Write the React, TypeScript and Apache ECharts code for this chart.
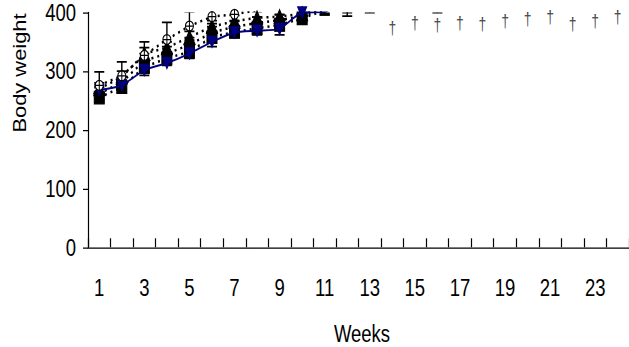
import React, { useEffect, useRef } from "react";
import * as echarts from "echarts";

const N: number | null = null;

const weeks = [
  "1", "2", "3", "4", "5", "6", "7", "8", "9", "10", "11", "12",
  "13", "14", "15", "16", "17", "18", "19", "20", "21", "22", "23", "24",
];

// mean body weight per week (weeks 1..24) and standard deviations
const blueMean = [268, 276, 302, 314, 330, 350, 366, 369, 372, 400, 401, 430, N, N, N, N, N, N, N, N, N, N, N, N];
const blueSd = [6, 6, 9, 4, 8, 8, 7, 7, 10, N, N, N, N, N, N, N, N, N, N, N, N, N, N, N];

const squareMean = [255, 273, 307, 322, 333, 358, 367, 373, 379, 390, 404, 412, 415, N, N, N, N, N, N, N, N, N, N, N];
const squareSd = [8, 10, 10, 10, 10, 10, 10, 10, 10, 10, 8, 18, 15, N, N, N, N, N, N, N, N, N, N, N];

const diamondMean = [262, 281, 318, 330, 345, 366, 376, 382, 387, 394, 406, 412, 414, N, N, 416, N, N, N, N, N, N, N, N];
const diamondSd = [10, 10, 12, 12, 12, 10, 10, 10, 10, 10, 10, 12, 12, N, N, 16, N, N, N, N, N, N, N, N];

const triMean = [270, 290, 330, 340, 358, 376, 385, 391, 393, 398, 408, 412, 415, N, N, N, N, N, N, N, N, N, N, N];
const triSd = [10, 10, 10, 10, 10, 10, 10, 10, 10, 10, 10, 10, 10, N, N, N, N, N, N, N, N, N, N, N];

const circleMean = [276, 292, 327, 354, 377, 393, 397, 404, 408, 410, 412, 414, 416, N, N, N, N, N, N, N, N, N, N, N];
const circleSd = [23, 24, 23, 29, 24, 12, 12, 12, 12, 12, 12, 12, 12, N, N, N, N, N, N, N, N, N, N, N];

// death markers (†) after week 13
const daggerWeeks = ["14", "15", "16", "17", "18", "19", "20", "21", "22", "23", "24"];
const daggerY = [374, 382, 378, 383, 381, 386, 389, 392, 380, 386, 392];

const yMin = 0;
const yMax = 400;
const yInterval = 100;

// the reference is vertically stretched; reproduce by stretching the chart
const STRETCH = 1.25;
const W = 629;
const H = 347;

const FONT = "'Liberation Sans', Arial, sans-serif";

function errorData(mean: (number | null)[], sd: (number | null)[]) {
  const out: number[][] = [];
  mean.forEach((m, i) => {
    const s = sd[i];
    if (m != null && s != null) out.push([i, m - s, m + s]);
  });
  return out;
}

function errorSeries(mean: (number | null)[], sd: (number | null)[], color: string, z: number) {
  return {
    type: "custom",
    clip: true,
    z,
    silent: true,
    encode: { x: 0, y: [1, 2] },
    data: errorData(mean, sd),
    renderItem: (params: any, api: any) => {
      const x = api.value(0);
      const lo = api.coord([x, api.value(1)]);
      const hi = api.coord([x, api.value(2)]);
      const w = 5;
      const st = { stroke: color, lineWidth: 1.4 };
      return {
        type: "group",
        children: [
          { type: "line", shape: { x1: lo[0], y1: lo[1], x2: hi[0], y2: hi[1] }, style: st },
          { type: "line", shape: { x1: lo[0] - w, y1: lo[1], x2: lo[0] + w, y2: lo[1] }, style: st },
          { type: "line", shape: { x1: hi[0] - w, y1: hi[1], x2: hi[0] + w, y2: hi[1] }, style: st },
        ],
      };
    },
  };
}

function lineSeries(
  name: string,
  data: (number | null)[],
  symbol: string,
  size: number,
  fill: string,
  lineColor: string,
  lineType: any,
  lineWidth: number,
  z: number,
  smooth: number = 0
) {
  return {
    type: "line",
    name,
    data,
    symbol,
    symbolSize: size,
    showAllSymbol: true,
    clip: true,
    smooth,
    z,
    itemStyle: { color: fill, borderColor: fill === "#fff" ? "#000" : fill, borderWidth: 1 },
    lineStyle: { color: lineColor, type: lineType, width: lineWidth },
  };
}

const circleCross = "path://M10,0 A10,10 0 1,1 10,20 A10,10 0 1,1 10,0 Z M0,10 L20,10 M10,0 L10,20";

export default function App() {
  const ref = useRef<HTMLDivElement>(null);

  useEffect(() => {
    if (!ref.current) return;
    const chart = echarts.init(ref.current, undefined, { renderer: "svg" });
    const s = STRETCH;
    const option: any = {
      animation: false,
      backgroundColor: "#fff",
      grid: { left: 88, top: 12.5 / s, width: 543, height: 234.8 / s, containLabel: false },
      xAxis: {
        type: "category",
        data: weeks,
        boundaryGap: true,
        axisLine: { show: true, lineStyle: { color: "#000", width: 1 } },
        axisTick: { show: true, inside: true, length: 9 / s, interval: 0, lineStyle: { color: "#000", width: 1.2 } },
        axisLabel: { interval: 1, margin: 22.5, fontSize: 18.5, color: "#000", fontFamily: FONT },
        splitLine: { show: false },
      },
      yAxis: {
        type: "value",
        min: yMin,
        max: yMax,
        interval: yInterval,
        axisLine: { show: true, lineStyle: { color: "#000", width: 1.2 } },
        axisTick: { show: true, inside: false, length: 5, lineStyle: { color: "#000", width: 1 } },
        axisLabel: { margin: 12, fontSize: 18.5, color: "#000", fontFamily: FONT },
        splitLine: { show: false },
      },
      graphic: [
        {
          type: "text",
          x: 19.5,
          y: 73 / s,
          rotation: Math.PI / 2,
          style: {
            text: "Body weight",
            font: "17.5px 'Liberation Sans', Arial, sans-serif",
            fill: "#000",
            textAlign: "center",
            textVerticalAlign: "middle",
          },
        },
        {
          type: "text",
          x: 362,
          y: 333.5 / s,
          style: {
            text: "Weeks",
            font: "18.5px 'Liberation Sans', Arial, sans-serif",
            fill: "#000",
            textAlign: "center",
            textVerticalAlign: "middle",
          },
        },
      ],
      series: [
        errorSeries(squareMean, squareSd, "#000", 3),
        errorSeries(diamondMean, diamondSd, "#000", 3),
        errorSeries(triMean, triSd, "#000", 3),
        errorSeries(circleMean, circleSd, "#000", 3),
        errorSeries(blueMean, blueSd, "#000", 3),
        lineSeries("Squares", squareMean, "rect", 10, "#000", "#000", [2, 4], 2, 4),
        lineSeries("Diamonds", diamondMean, "diamond", 11, "#000", "#000", [2, 4], 2, 4),
        lineSeries("Triangles", triMean, "triangle", 11, "#000", "#000", [2, 4], 2, 4),
        lineSeries("Blue", blueMean, "path://M0,0 L20,0 L10,17 Z", 9, "#000080", "#000080", "solid", 1.5, 5, 0.2),
        lineSeries("Circles", circleMean, circleCross, 8, "#fff", "#000", [2, 4], 2, 6),
        {
          type: "scatter",
          name: "Deaths",
          data: daggerWeeks.map((w, i) => [w, daggerY[i]]),
          symbol: "circle",
          symbolSize: 1,
          itemStyle: { color: "transparent" },
          z: 7,
          label: {
            show: true,
            position: "inside",
            formatter: "†",
            fontSize: 14,
            color: "#111",
            fontFamily: FONT,
          },
        },
      ],
    };
    chart.setOption(option);
    return () => chart.dispose();
  }, []);

  return (
    <div style={{ position: "absolute", left: 0, top: 0, width: W, height: H, overflow: "hidden", background: "#fff" }}>
      <div
        ref={ref}
        style={{
          width: W,
          height: H / STRETCH,
          transform: `scaleY(${STRETCH})`,
          transformOrigin: "0 0",
        }}
      />
    </div>
  );
}
